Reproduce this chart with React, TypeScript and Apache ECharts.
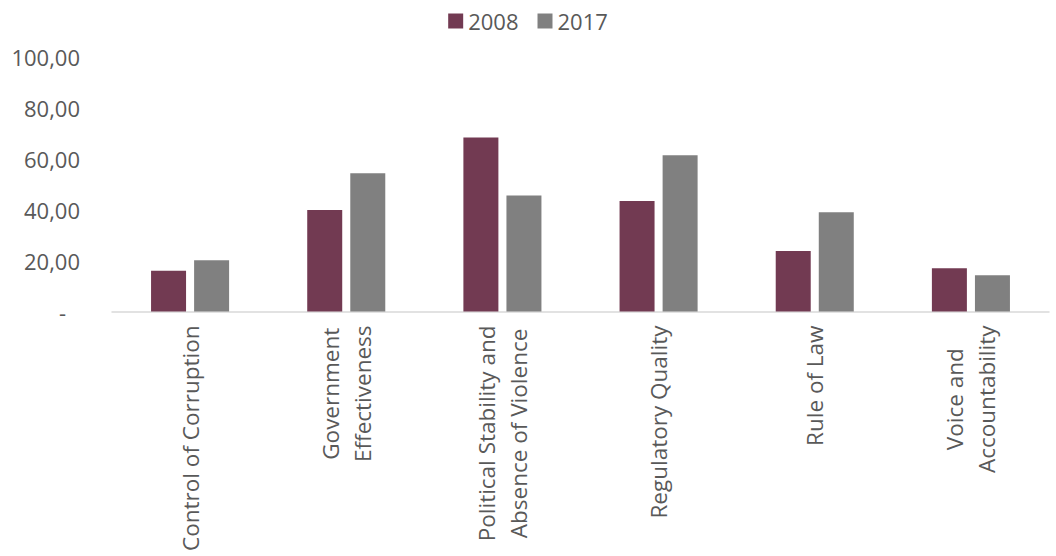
import React, { useEffect, useRef } from "react";
import * as echarts from "echarts";

const categories = [
  "Control of Corruption",
  "Government\nEffectiveness",
  "Political Stability and\nAbsence of Violence",
  "Regulatory Quality",
  "Rule of Law",
  "Voice and\nAccountability",
];
const values2008 = [16.0, 39.9, 68.4, 43.4, 23.8, 17.0];
const values2017 = [20.1, 54.3, 45.6, 61.4, 39.0, 14.2];
const seriesNames = ["2008", "2017"];
const yTicks = { min: 0, max: 100, interval: 20 };

const FONT = "'Open Sans', 'Noto Sans', sans-serif";
const TEXT = "#595959";

export default function App() {
  const ref = useRef<HTMLDivElement>(null);
  useEffect(() => {
    if (!ref.current) return;
    const chart = echarts.init(ref.current, undefined, { renderer: "svg" });
    chart.setOption({
      animation: false,
      textStyle: { fontFamily: FONT },
      legend: {
        top: 5,
        left: "center",
        itemWidth: 15,
        itemHeight: 15,
        itemGap: 19,
        icon: "rect",
        textStyle: { color: TEXT, fontSize: 22, fontFamily: FONT },
        data: seriesNames,
      },
      grid: {
        left: 112,
        right: 7,
        top: 57,
        bottom: 244.5,
        containLabel: false,
        outerBoundsMode: "none",
      },
      xAxis: {
        type: "category",
        data: categories,
        axisLine: { lineStyle: { color: "#D9D9D9", width: 1.5 } },
        axisTick: { show: false },
        axisLabel: {
          rotate: 90,
          interval: 0,
          margin: 14,
          color: TEXT,
          fontSize: 22.5,
          fontFamily: FONT,
          lineHeight: 32,
          formatter: (v: string) =>
            v
              .split("\n")
              .map((l) => `{c|${l}}`)
              .join("\n"),
          rich: {
            c: { align: "center", color: TEXT, fontSize: 22.5, fontFamily: FONT, lineHeight: 32 },
          },
        },
      },
      yAxis: {
        type: "value",
        min: yTicks.min,
        max: yTicks.max,
        interval: yTicks.interval,
        axisLine: { show: false },
        axisTick: { show: false },
        splitLine: { show: false },
        axisLabel: {
          color: TEXT,
          fontSize: 22,
          fontFamily: FONT,
          margin: 32,
          formatter: (v: number) =>
            v === 0 ? "{d|-}" : v.toFixed(2).replace(".", ","),
          rich: {
            d: { color: TEXT, fontSize: 22, fontFamily: FONT, padding: [0, 14, 0, 0] },
          },
        },
      },
      series: [
        {
          name: seriesNames[0],
          type: "bar",
          data: values2008,
          barWidth: 35,
          barGap: "23%",
          itemStyle: { color: "#723A52" },
        },
        {
          name: seriesNames[1],
          type: "bar",
          data: values2017,
          barWidth: 35,
          itemStyle: { color: "#808080" },
        },
      ],
    });
    return () => chart.dispose();
  }, []);
  return (
    <div
      ref={ref}
      style={{ position: "fixed", left: 0, top: 0, width: 1056, height: 556, background: "#fff" }}
    />
  );
}
